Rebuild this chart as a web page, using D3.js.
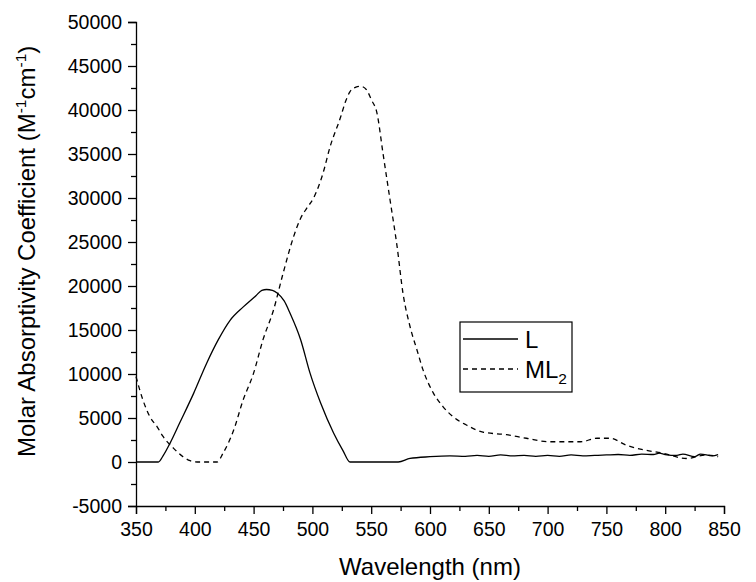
<!DOCTYPE html>
<html>
<head>
<meta charset="utf-8">
<script src="https://cdn.jsdelivr.net/npm/d3@7"></script>
<style>
  html, body { margin: 0; padding: 0; background: #fff; }
  svg { display: block; font-family: "Liberation Sans", Arial, sans-serif; }
</style>
</head>
<body>
<div id="chart"></div>
<script>
// ---- data ----
const xTicks = [350, 400, 450, 500, 550, 600, 650, 700, 750, 800, 850];
const yTicks = [-5000, 0, 5000, 10000, 15000, 20000, 25000, 30000, 35000, 40000, 45000, 50000];

const wavelengthL = [350, 369, 373, 379, 387, 399, 410, 420, 430, 441, 452, 457, 461, 466, 470, 476, 481, 490, 498, 507, 518, 526, 532, 573, 583, 600, 617, 630, 640, 650, 660, 670, 680, 690, 700, 710, 720, 730, 740, 750, 760, 770, 780, 790, 795, 800, 810, 815, 825, 830, 840, 845];
const valuesL     = [0, 0, 700, 2150, 4400, 7800, 11200, 13900, 16100, 17600, 18900, 19500, 19600, 19500, 19200, 18300, 16900, 13900, 10100, 6700, 3300, 1300, 0, 0, 400, 600, 700, 650, 750, 650, 800, 700, 750, 650, 750, 650, 800, 700, 750, 800, 850, 750, 900, 850, 1000, 850, 750, 900, 600, 900, 700, 850];

const wavelengthML2 = [350, 356, 362, 368, 373, 382, 390, 396, 402, 419, 424, 433, 441, 450, 458, 467, 475, 484, 490, 495, 501, 509, 515, 524, 528, 532, 537, 541, 546, 550, 555, 560, 566, 572, 577, 583, 589, 594, 603, 611, 620, 631, 645, 665, 682, 702, 728, 742, 753, 767, 781, 798, 818, 835, 845];
const valuesML2     = [9700, 7000, 5100, 4000, 2900, 1550, 600, 150, 0, 0, 1000, 3600, 7000, 10100, 13900, 17300, 21400, 25600, 27700, 28800, 30000, 32800, 35800, 39200, 40900, 42100, 42600, 42700, 42300, 41200, 39600, 35100, 29800, 24500, 19200, 15400, 12700, 10500, 7800, 6300, 5100, 4200, 3400, 3100, 2700, 2300, 2300, 2700, 2700, 1900, 1400, 1000, 400, 800, 600];

const seriesNames = ["L", "ML"];

// ---- layout ----
const W = 756, H = 582;
const margin = { left: 136, right: 32, top: 22, bottom: 76 };

const svg = d3.select("#chart").append("svg").attr("width", W).attr("height", H);

const x = d3.scaleLinear().domain([350, 850]).range([margin.left, W - margin.right]);
const y = d3.scaleLinear().domain([-5000, 50000]).range([H - margin.bottom, margin.top]);

const fmt = d => String(d);

// minor ticks
const xMinor = d3.range(375, 850, 50);
const yMinor = d3.range(-2500, 50000, 5000);

const gx = svg.append("g").attr("transform", `translate(0,${y(-5000)})`);
gx.call(d3.axisBottom(x).tickValues(xTicks).tickSize(8).tickPadding(8).tickFormat(fmt));
gx.append("g").call(d3.axisBottom(x).tickValues(xMinor).tickSize(5).tickFormat(""));
gx.selectAll("path.domain").filter((d, i, n) => n[i].parentNode !== gx.node()).remove();

const gy = svg.append("g").attr("transform", `translate(${x(350)},0)`);
gy.call(d3.axisLeft(y).tickValues(yTicks).tickSize(8).tickPadding(6).tickFormat(fmt));
gy.append("g").call(d3.axisLeft(y).tickValues(yMinor).tickSize(5).tickFormat(""));
gy.selectAll("path.domain").filter((d, i, n) => n[i].parentNode !== gy.node()).remove();

svg.selectAll(".tick text").attr("font-size", 19.5).attr("fill", "#000")
   .attr("font-family", "'Liberation Sans', Arial, sans-serif");
svg.selectAll(".tick line").attr("stroke", "#000").attr("stroke-width", 1.3);
svg.selectAll("path.domain").attr("stroke", "#000").attr("stroke-width", 1.3);
gx.selectAll(".tick text").attr("dy", "0.71em");

// lines
const line = d3.line().curve(d3.curveMonotoneX).x(d => x(d[0])).y(d => y(d[1]));
const dataL = wavelengthL.map((w, i) => [w, valuesL[i]]);
const dataML2 = wavelengthML2.map((w, i) => [w, valuesML2[i]]);

svg.append("path").datum(dataL).attr("d", line)
   .attr("fill", "none").attr("stroke", "#000").attr("stroke-width", 1.3);
svg.append("path").datum(dataML2).attr("d", line)
   .attr("fill", "none").attr("stroke", "#000").attr("stroke-width", 1.3)
   .attr("stroke-dasharray", "5,4");

// axis titles
svg.append("text").attr("x", (x(350) + x(850)) / 2).attr("y", 575)
   .attr("text-anchor", "middle").attr("font-size", 24).text("Wavelength (nm)");

const yt = svg.append("text").attr("transform", `translate(35,457) rotate(-90)`)
   .attr("text-anchor", "start").attr("font-size", 24);
yt.append("tspan").text("Molar Absorptivity Coefficient (M");
yt.append("tspan").attr("font-size", 15.5).attr("dy", -9).text("-1");
yt.append("tspan").attr("dy", 9).text("cm");
yt.append("tspan").attr("font-size", 15.5).attr("dy", -9).text("-1");
yt.append("tspan").attr("dy", 9).text(")");

// legend
const lg = svg.append("g");
lg.append("rect").attr("x", 460).attr("y", 322).attr("width", 112).attr("height", 70)
  .attr("fill", "#fff").attr("stroke", "#000").attr("stroke-width", 1.2);
lg.append("line").attr("x1", 463).attr("x2", 518).attr("y1", 339).attr("y2", 339)
  .attr("stroke", "#000").attr("stroke-width", 1.3);
lg.append("line").attr("x1", 463).attr("x2", 518).attr("y1", 369).attr("y2", 369)
  .attr("stroke", "#000").attr("stroke-width", 1.3).attr("stroke-dasharray", "5,4");
lg.append("text").attr("x", 525).attr("y", 348).attr("font-size", 24).text(seriesNames[0]);
const t2 = lg.append("text").attr("x", 525).attr("y", 378).attr("font-size", 24);
t2.append("tspan").text(seriesNames[1]);
t2.append("tspan").attr("font-size", 15.5).attr("dy", 6).text("2");
</script>
</body>
</html>
